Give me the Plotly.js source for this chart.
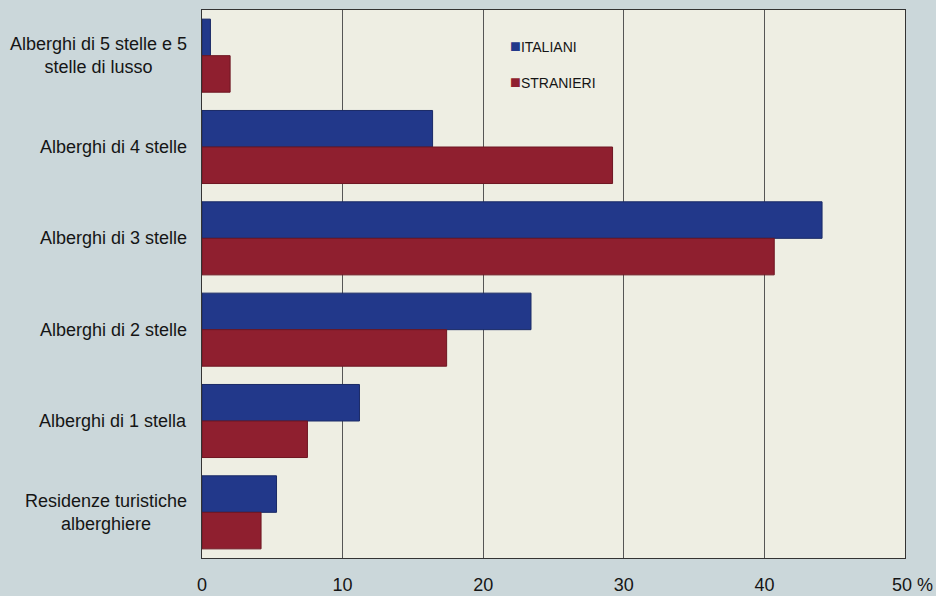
<!DOCTYPE html>
<html><head><meta charset="utf-8">
<script src="https://cdn.plot.ly/plotly-3.0.1.min.js"></script>
<style>html,body{margin:0;padding:0;background:#cbd7da;}#chart{width:936px;height:596px;}</style>
</head><body><div id="chart"></div>
<script>
const categories = ["Alberghi di 5 stelle e 5<br>stelle di lusso", "Alberghi di 4 stelle", "Alberghi di 3 stelle", "Alberghi di 2 stelle", "Alberghi di 1 stella", "Residenze turistiche<br>alberghiere"];
const seriesNames = ["ITALIANI", "STRANIERI"];
const italiani = [0.6, 16.4, 44.1, 23.4, 11.2, 5.3];
const stranieri = [2.0, 29.2, 40.7, 17.4, 7.5, 4.2];
const tickVals = [0, 10, 20, 30, 40, 50];
const tickText = ["0", "10", "20", "30", "40", "\u00a0\u00a0\u00a050 %"];
const colors = ["#22388a", "#8f1f2f"];

const traces = [
  {type:"bar", orientation:"h", name:seriesNames[0], y:categories, x:italiani, showlegend:false, marker:{color:colors[0], line:{color:"#1a2a66", width:1}}},
  {type:"bar", orientation:"h", name:seriesNames[1], y:categories, x:stranieri, showlegend:false, marker:{color:colors[1], line:{color:"#6e1622", width:1}}}
];
const annotations = categories.map(c => ({
  text:c, x:0, xref:"paper", y:c, yref:"y", xanchor:"right", yanchor:"middle", xshift:-13,
  align:"center", showarrow:false, font:{size:18, color:"#151515"}
}));
seriesNames.forEach((n, i) => annotations.push({
  text:'<span style="color:' + colors[i] + ';font-size:18px">■</span>' + n,
  x:0.435, xref:"paper", y:[0.934, 0.868][i], yref:"paper", xanchor:"left", yanchor:"middle",
  showarrow:false, font:{size:14, color:"#151515"}
}));
const layout = {
  width:936, height:596,
  paper_bgcolor:"#cbd7da", plot_bgcolor:"#eeeee3",
  margin:{l:202, r:31, t:10, b:38},
  barmode:"group", bargap:0.2, bargroupgap:0,
  font:{family:"Liberation Sans, Arial, sans-serif", color:"#151515", size:14},
  xaxis:{range:[0,50], tickvals:tickVals, ticktext:tickText, showgrid:true, gridcolor:"#555555", gridwidth:1,
         zeroline:false, showline:true, linecolor:"#333", mirror:true, ticks:"", ticklen:0, tickfont:{size:18}, ticklabelstandoff:10},
  yaxis:{autorange:"reversed", showline:true, linecolor:"#333", mirror:true, ticks:"", showticklabels:false, showgrid:false},
  annotations:annotations,
  showlegend:false
};
Plotly.newPlot("chart", traces, layout, {displayModeBar:false});
</script></body></html>
